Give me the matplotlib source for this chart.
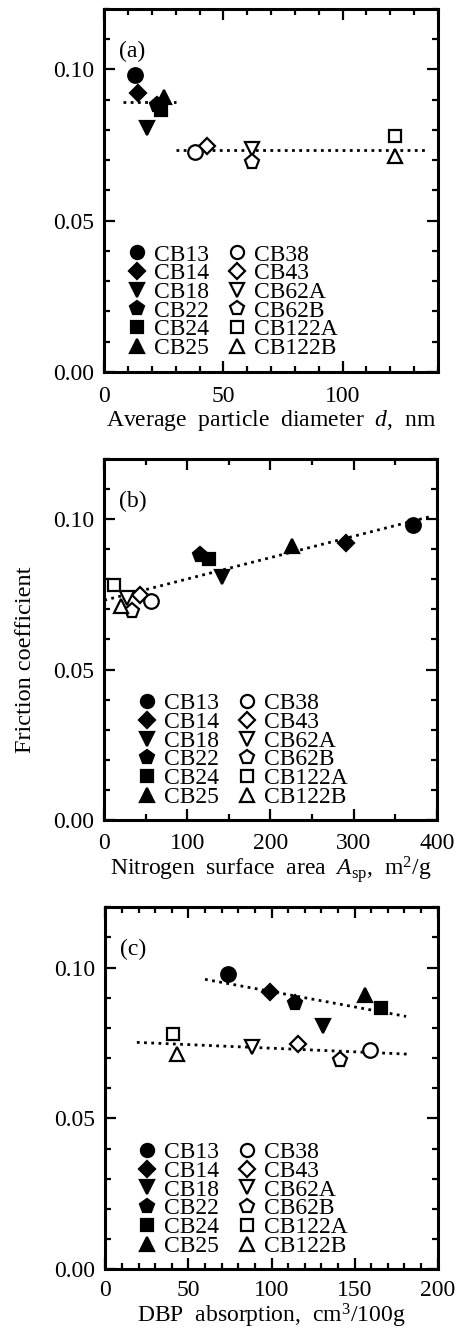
import matplotlib
matplotlib.use("Agg")
import matplotlib.pyplot as plt
from matplotlib.ticker import MultipleLocator, FormatStrFormatter

plt.rcParams['font.family'] = 'Liberation Serif'
plt.rcParams['mathtext.fontset'] = 'custom'
plt.rcParams['mathtext.rm'] = 'Liberation Serif'
plt.rcParams['mathtext.it'] = 'Liberation Serif:italic'

# ------------------------
# Data
# ------------------------
names = ["CB13", "CB14", "CB18", "CB22", "CB24", "CB25",
         "CB38", "CB43", "CB62A", "CB62B", "CB122A", "CB122B"]
markers = ["o", "D", "v", "p", "s", "^", "o", "D", "v", "p", "s", "^"]
filled = [True] * 6 + [False] * 6

friction = [0.0980, 0.0920, 0.0806, 0.0882, 0.0866, 0.0910,
            0.0728, 0.0748, 0.0736, 0.0695, 0.0780, 0.0712]
diameter = [13, 14, 18, 22, 24, 25, 38, 43, 62, 62, 122, 122]
surface_area = [371, 291, 142, 115, 126, 226, 56, 43, 27, 33, 12, 20]
dbp = [74, 99, 131, 114, 166, 156, 159, 116, 88, 141, 41, 43]

# dotted guide lines (end points)
lines_a = [([8, 30], [0.0893, 0.0893]), ([30, 136], [0.0733, 0.0733])]
lines_b = [([0, 395], [0.0730, 0.1010])]
lines_c = [([60, 181], [0.0961, 0.0838]), ([19, 182], [0.0752, 0.0713])]

marker_size = {"o": 10.5, "D": 8.5, "v": 10.5, "p": 11, "s": 9, "^": 10.5}


def draw_panel(ax, xs, lines, xlim, xmajor, xminor, xlabel, xpad, lpad, tag, leg_x):
    for xl, yl in lines:
        ax.plot(xl, yl, color="black", lw=2, linestyle=(0, (1, 1.6)), zorder=1)
    for x, y, n, m, f in zip(xs, friction, names, markers, filled):
        ax.plot([x], [y], linestyle="none", marker=m, ms=marker_size[m],
                mfc="black" if f else "white", mec="black", mew=1.6,
                label=n, zorder=3)
    ax.set_xlim(*xlim)
    ax.set_ylim(0, 0.12)
    ax.xaxis.set_major_locator(MultipleLocator(xmajor))
    ax.xaxis.set_minor_locator(MultipleLocator(xminor))
    ax.yaxis.set_major_locator(MultipleLocator(0.05))
    ax.yaxis.set_minor_locator(MultipleLocator(0.01))
    ax.yaxis.set_major_formatter(FormatStrFormatter("%.2f"))
    ax.tick_params(which="both", direction="in", top=True, right=True,
                   labelsize=17, width=1.6)
    ax.tick_params(which="major", length=8)
    ax.tick_params(which="minor", length=4.5)
    ax.tick_params(axis="y", which="major", pad=7)
    ax.tick_params(axis="x", which="major", pad=xpad)
    for s in ax.spines.values():
        s.set_linewidth(2.2)
    ax.set_xlabel(xlabel, fontsize=17, labelpad=lpad)
    ax.text(0.044, 0.882, tag, transform=ax.transAxes, fontsize=17,
            va="center", ha="left")
    ax.legend(loc="upper left", bbox_to_anchor=(leg_x, 0.352), ncol=2,
              frameon=False, fontsize=17, borderpad=0, borderaxespad=0,
              handlelength=0.8, handletextpad=0.3, columnspacing=0.8,
              labelspacing=-0.12, markerscale=0.9)


fig = plt.figure(figsize=(4.58, 13.31), dpi=100)
ax_a = fig.add_axes([0.2277, 0.7207, 0.7286, 0.2727])
ax_b = fig.add_axes([0.2277, 0.3839, 0.7258, 0.2714])
ax_c = fig.add_axes([0.2299, 0.0464, 0.7258, 0.2720])

draw_panel(ax_a, diameter, lines_a, (0, 140), 50, 10,
           r"Average  particle  diameter  $d$,  nm", 10, 1, "(a)", 0.071)
draw_panel(ax_b, surface_area, lines_b, (0, 400), 100, 50,
           r"Nitrogen  surface  area  $A_{\mathrm{sp}}$,  m$^{2}$/g", 9, 0.5, "(b)", 0.101)
draw_panel(ax_c, dbp, lines_c, (0, 200), 50, 10,
           r"DBP  absorption,  cm$^{3}$/100g", 8, 0.5, "(c)", 0.098)

fig.text(26 / 458, 1 - 660 / 1331, "Friction coefficient", rotation=90,
         fontsize=17.5, ha="center", va="center")

fig.savefig("out.png", dpi=100)
